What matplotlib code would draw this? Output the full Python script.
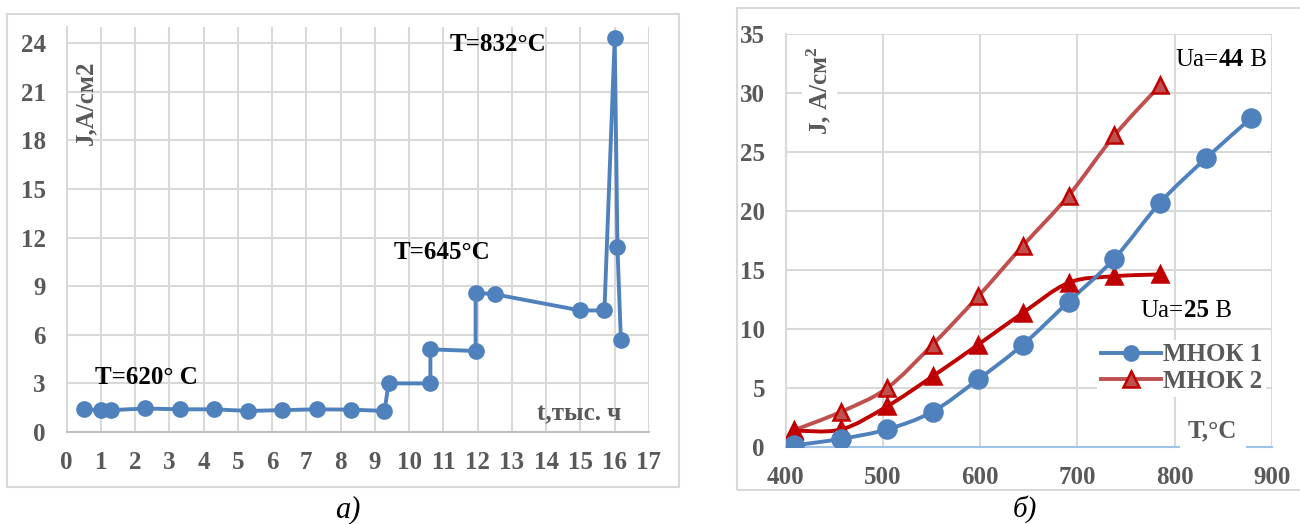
import matplotlib
matplotlib.use("Agg")
import matplotlib.pyplot as plt
from matplotlib.path import Path
from matplotlib.patches import PathPatch, Rectangle
from matplotlib.lines import Line2D
import numpy as np

plt.rcParams['font.family'] = ['Liberation Serif', 'DejaVu Serif']

# ---- chart a): current density vs time ----
t_hours = [0.5, 1.0, 1.3, 2.3, 3.3, 4.3, 5.3, 6.3, 7.3, 8.3, 9.28, 9.4,
           10.62, 10.62, 11.94, 11.94, 12.5, 15.0, 15.7, 16.0, 16.08, 16.18]
j_time = [1.4, 1.35, 1.35, 1.45, 1.4, 1.4, 1.3, 1.35, 1.4, 1.38, 1.3, 3.0,
          3.0, 5.1, 5.0, 8.6, 8.5, 7.5, 7.5, 24.3, 11.4, 5.7]

# ---- chart б): current density vs temperature ----
temp_1 = [409, 457, 504, 551, 598, 644, 691, 738, 785, 832, 879]
j_mnok1 = [0.1, 0.65, 1.45, 2.95, 5.7, 8.65, 12.3, 15.95, 20.7, 24.45, 27.9]
temp_2 = [409, 457, 504, 551, 598, 644, 691, 738, 785]
j_mnok2_44 = [1.4, 2.95, 4.95, 8.65, 12.75, 17.05, 21.3, 26.4, 30.65]
j_mnok2_25 = [1.35, 1.45, 3.4, 5.95, 8.65, 11.35, 13.9, 14.45, 14.6]

BLUE = '#4F81BD'
LRED = '#C0504D'
DRED = '#C00000'
GRID = '#D9D9D9'
TXT = '#595959'
FS = 18


def smooth_path(xs, ys):
    """Excel-like smoothed line: Catmull-Rom segments as cubic Bezier"""
    pts = np.column_stack([xs, ys]).astype(float)
    ext = np.vstack([pts[0], pts, pts[-1]])
    verts = [pts[0]]
    codes = [Path.MOVETO]
    for i in range(1, len(ext) - 2):
        p0, p1, p2, p3 = ext[i - 1], ext[i], ext[i + 1], ext[i + 2]
        verts += [p1 + (p2 - p0) / 6, p2 - (p3 - p1) / 6, p2]
        codes += [Path.CURVE4] * 3
    return Path(verts, codes)


def style_axes(ax):
    for side in ['top', 'right']:
        ax.spines[side].set_visible(False)
    ax.spines['left'].set_color(GRID)
    ax.spines['left'].set_linewidth(1.5)
    ax.grid(True, color=GRID, linewidth=1.5)
    ax.set_axisbelow(True)
    ax.tick_params(length=0, labelsize=FS, labelcolor=TXT)
    for lbl in ax.get_xticklabels() + ax.get_yticklabels():
        lbl.set_fontweight('bold')


def voltage_label(ax, x, y, value):
    """'Ua=' regular, number bold, ' В' regular, chained left to right"""
    t1 = ax.text(x, y, 'Ua=', fontsize=FS, ha='left', va='baseline')
    t2 = ax.annotate(value, xy=(1, 0), xycoords=t1, fontsize=FS,
                     fontweight='bold', ha='left', va='bottom')
    ax.annotate('\u00a0В', xy=(1, 0), xycoords=t2, fontsize=FS,
                ha='left', va='bottom')


fig = plt.figure(figsize=(13, 5.24), dpi=100)

# outer chart frames
fig.add_artist(Rectangle((7 / 1300, 1 - 487 / 524), 672 / 1300, 473 / 524,
                         transform=fig.transFigure, fill=False, edgecolor=GRID, lw=1.5))
fig.add_artist(Rectangle((737 / 1300, 1 - 490 / 524), 600 / 1300, 482 / 524,
                         transform=fig.transFigure, fill=False, edgecolor=GRID, lw=1.5))

# ---------- left chart ----------
ax1 = fig.add_axes([0.0512, 0.1756, 0.448, 0.773])
ax1.plot(t_hours, j_time, color=BLUE, lw=2.8, marker='o', ms=11,
         markerfacecolor=BLUE, markeredgecolor=BLUE, zorder=3)
ax1.set_xlim(0, 17)
ax1.set_ylim(0, 25)
ax1.set_xticks(range(0, 18))
ax1.set_yticks(range(0, 25, 3))
ax1.spines['bottom'].set_color('#BFBFBF')
ax1.spines['bottom'].set_linewidth(1.5)
style_axes(ax1)
ax1.tick_params(axis='x', pad=14)
ax1.tick_params(axis='y', pad=15)

ax1.text(0.57, 20.3, 'J,A/см2', rotation=90, fontsize=FS, fontweight='bold',
         color=TXT, ha='center', va='center')
ax1.text(12.6, 23.9, 'T=832°C', fontsize=FS, fontweight='bold', ha='center', va='center')
ax1.text(10.95, 11.05, 'T=645°C', fontsize=FS, fontweight='bold', ha='center', va='center')
ax1.text(2.32, 3.35, 'T=620° C', fontsize=FS, fontweight='bold', ha='center', va='center')
ax1.text(16.2, 1.1, 't,тыс. ч', fontsize=FS, fontweight='bold', color=TXT,
         ha='right', va='center')

fig.text(348 / 1300, 1 - 510 / 524, 'а)', fontsize=22, style='italic',
         ha='center', va='center')

# ---------- right chart ----------
ax2 = fig.add_axes([0.6044, 0.1479, 0.374, 0.787])
ax2.set_xlim(400, 900)
ax2.set_ylim(0, 35)
ax2.set_xticks(range(400, 901, 100))
ax2.set_yticks(range(0, 36, 5))
ax2.spines['bottom'].set_color('#9DC3E6')
ax2.spines['bottom'].set_linewidth(1.5)
style_axes(ax2)
ax2.tick_params(axis='x', pad=14)
ax2.tick_params(axis='y', pad=15)

series = [(temp_2, j_mnok2_44, LRED, '^', LRED, DRED),
          (temp_2, j_mnok2_25, DRED, '^', DRED, DRED),
          (temp_1, j_mnok1, BLUE, 'o', BLUE, BLUE)]
for xs, ys, lc, mk, mfc, mec in series:
    ax2.add_patch(PathPatch(smooth_path(xs, ys), fill=False, edgecolor=lc,
                            lw=2.8, zorder=3, capstyle='round'))
    ax2.plot(xs, ys, linestyle='none', marker=mk, ms=12 if mk == '^' else 13,
             markerfacecolor=mfc, markeredgecolor=mec, markeredgewidth=1.8,
             zorder=4)

ax2.text(435, 30.2, 'J, A/см$^\\mathregular{2}$', rotation=90, fontsize=FS,
         fontweight='bold', color=TXT, ha='center', va='center',
         bbox=dict(facecolor='white', edgecolor='none', pad=2))

voltage_label(ax2, 801, 32.3, '44')
voltage_label(ax2, 765, 11.0, '25')

ax2.text(839, 1.3, 'T,°C', fontsize=FS, fontweight='bold', color=TXT,
         ha='center', va='center',
         bbox=dict(facecolor='white', edgecolor='none', pad=6))

handles = [Line2D([], [], color=BLUE, lw=2.8, marker='o', ms=11,
                  markerfacecolor=BLUE, markeredgecolor=BLUE),
           Line2D([], [], color=LRED, lw=2.8, marker='^', ms=11,
                  markerfacecolor=LRED, markeredgecolor=DRED, markeredgewidth=1.8)]
leg = ax2.legend(handles, ['МНОК 1', 'МНОК 2'], loc='center left',
                 bbox_to_anchor=(0.615, 0.19), frameon=True, facecolor='white',
                 edgecolor='none', framealpha=1, handlelength=2.4,
                 handletextpad=0.1, labelspacing=0.15, borderpad=0.15,
                 prop={'size': FS, 'weight': 'bold'})
for txt in leg.get_texts():
    txt.set_color(TXT)

fig.text(1025 / 1300, 1 - 509 / 524, 'б)', fontsize=21, style='italic',
         ha='center', va='center')

fig.savefig('out.png', dpi=100)
